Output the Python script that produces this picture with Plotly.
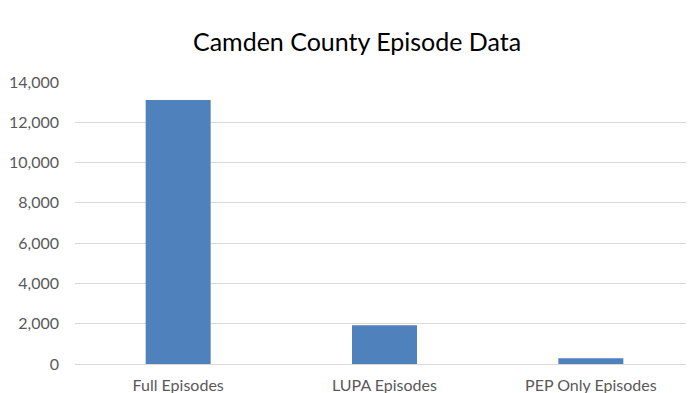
import plotly.graph_objects as go

categories = ["Full Episodes", "LUPA Episodes", "PEP Only Episodes"]
episodes = [13110, 1920, 280]
y_tickvals = [0, 2000, 4000, 6000, 8000, 10000, 12000, 14000]
y_ticktext = ["0", "2,000", "4,000", "6,000", "8,000", "10,000", "12,000", "14,000"]

fig = go.Figure(go.Bar(x=categories, y=episodes, marker=dict(color="#4f81bd", line=dict(width=0))))

fig.update_layout(
    width=694, height=393,
    margin=dict(l=67, r=8, t=74, b=37),
    paper_bgcolor="white", plot_bgcolor="white",
    bargap=0.685,
    title=dict(text="Camden County Episode Data", x=0.503, xanchor="center", y=0.913, yanchor="middle",
               font=dict(family="Lato, Open Sans, sans-serif", size=25, color="#000000")),
    font=dict(family="Lato, Open Sans, sans-serif", size=16, color="#595959"),
    showlegend=False,
)
fig.update_yaxes(range=[0, 14000], tickvals=y_tickvals, ticktext=y_ticktext,
                 showgrid=True, gridcolor="#d9d9d9", gridwidth=1, zeroline=False,
                 showline=False, ticks="", ticklabelstandoff=15, automargin=False,
                 tickfont=dict(size=16, color="#595959"))
fig.update_xaxes(showline=True, linecolor="#d9d9d9", linewidth=1, ticks="",
                 ticklabelstandoff=7, automargin=False, tickfont=dict(size=16, color="#595959"))

fig.write_html("out.html")
